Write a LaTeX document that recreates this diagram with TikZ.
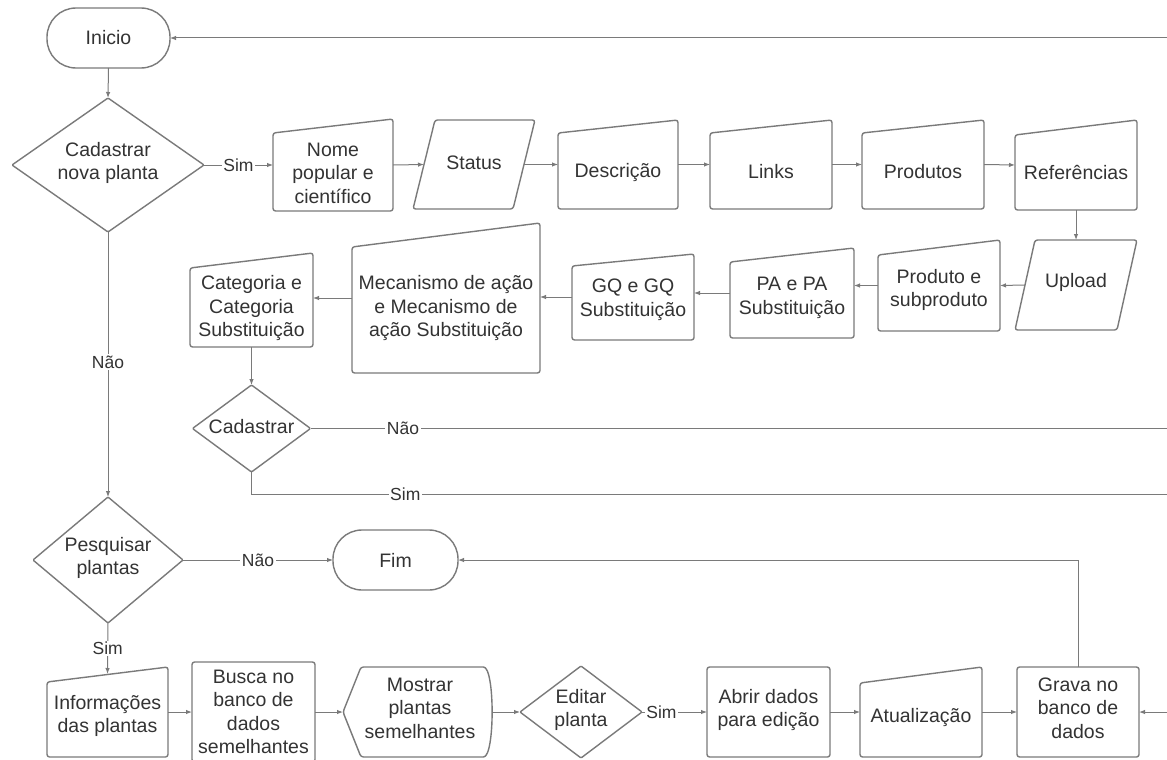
\documentclass[tikz,border=0pt]{standalone}
\usepackage{fontspec}
\setmainfont{Liberation Sans}
\usetikzlibrary{arrows.meta,calc}
\definecolor{ln}{HTML}{7A7A7A}
\definecolor{tx}{HTML}{333333}
\tikzset{
  frame/.style={inner sep=0pt, outer sep=0pt},
  outl/.style={draw=ln, line width=1.4pt, rounded corners=2.5pt, line join=round},
  txt/.style={text=tx, font=\fontsize{19.5}{23.5}\selectfont, align=center, inner sep=0pt},
  conn/.style={draw=ln, line width=1pt, -{Latex[length=6pt,width=4.5pt]}},
  plainline/.style={draw=ln, line width=1pt},
  lbl/.style={text=tx, font=\fontsize{17.5}{20}\selectfont, fill=white, inner sep=1.5pt},
}
\newcommand{\mkbox}[5]{\node[frame, minimum width=#4pt, minimum height=#5pt] (#1) at (#2,#3) {};}
\newcommand{\maninput}[2]{\draw[outl] (#1.south west) -- ([yshift=-#2pt]#1.north west) -- (#1.north east) -- (#1.south east) -- cycle;}
\newcommand{\skewbox}[2]{\draw[outl] (#1.south west) -- ([xshift=#2pt]#1.north west) -- (#1.north east) -- ([xshift=-#2pt]#1.south east) -- cycle;}
\newcommand{\diam}[1]{\draw[outl, rounded corners=1pt] (#1.north) -- (#1.east) -- (#1.south) -- (#1.west) -- cycle;}
\begin{document}
\begin{tikzpicture}[x=1pt, y=-1pt]
\useasboundingbox[fill=white] (0,0) rectangle (1167,760);

% ---- shapes ----
\node[frame, draw=ln, line width=1.4pt, rounded corners=29pt, minimum width=123pt, minimum height=60pt] (inicio) at (108.5,38) {};
\node[txt] (inicioT) at (108.5,38) {Inicio};

\mkbox{cad1}{108}{165}{192}{134} \diam{cad1}
\node[txt] (cad1T) at (108,163) {Cadastrar\\nova planta};

\mkbox{nome}{333}{165}{120}{92} \maninput{nome}{14}
\node[txt] (nomeT) at (333,173) {Nome\\popular e\\científico};

\mkbox{status}{474}{164.5}{122}{89} \skewbox{status}{22}
\node[txt] (statusT) at (474,163) {Status};

\mkbox{desc}{618}{164.5}{120}{89} \maninput{desc}{13}
\node[txt] (descT) at (618,172) {Descrição};

\mkbox{links}{771}{164.5}{122}{89} \maninput{links}{13}
\node[txt] (linksT) at (771,172) {Links};

\mkbox{prod}{923}{164.5}{122}{89} \maninput{prod}{13}
\node[txt] (prodT) at (923,172) {Produtos};

\mkbox{refs}{1076}{165}{122}{90} \maninput{refs}{15}
\node[txt] (refsT) at (1076,172) {Referências};

\mkbox{upload}{1076}{285}{122}{90} \skewbox{upload}{20}
\node[txt] (uploadT) at (1076,282) {Upload};

\mkbox{pes}{939}{285.5}{122}{91} \maninput{pes}{15}
\node[txt] (pesT) at (939,290) {Produto e\\subproduto};

\mkbox{pa}{792}{293}{124}{90} \maninput{pa}{14}
\node[txt] (paT) at (792,298) {PA e PA\\Substituição};

\mkbox{gq}{633}{297}{122}{86} \maninput{gq}{12}
\node[txt] (gqT) at (633,300) {GQ e GQ\\Substituição};

\mkbox{mec}{446}{298}{188}{150} \maninput{mec}{24}
\node[txt] (mecT) at (446,308) {Mecanismo de ação\\e Mecanismo de\\ação Substituição};

\mkbox{cat}{251.5}{300}{123}{94} \maninput{cat}{15}
\node[txt] (catT) at (251.5,308) {Categoria e\\Categoria\\Substituição};

\mkbox{cad2}{251.5}{428.5}{118}{87} \diam{cad2}
\node[txt] (cad2T) at (251.5,427) {Cadastrar};

\mkbox{pesq}{108}{560}{150}{126} \diam{pesq}
\node[txt] (pesqT) at (108,558) {Pesquisar\\plantas};

\node[frame, draw=ln, line width=1.4pt, rounded corners=29pt, minimum width=125pt, minimum height=60pt] (fim) at (395.5,560) {};
\node[txt] (fimT) at (395.5,560) {Fim};

\mkbox{info}{107.5}{712}{121}{90} \maninput{info}{15}
\node[txt] (infoT) at (107.5,716) {Informações\\das plantas};

\node[frame, outl, minimum width=123pt, minimum height=100pt] (busca) at (253.5,712) {};
\node[txt] (buscaT) at (253.5,712) {Busca no\\banco de\\dados\\semelhantes};

\mkbox{most}{418}{712}{150}{90}
\draw[outl] ([xshift=18pt]most.north west) -- ([xshift=-12pt]most.north east)
  .. controls ([xshift=2pt]most.north east) and ([xshift=2pt]most.south east) .. ([xshift=-12pt]most.south east)
  -- ([xshift=18pt]most.south west) -- (most.west) -- cycle;
\node[txt] (mostT) at (420,708) {Mostrar\\plantas\\semelhantes};

\mkbox{editar}{581}{712}{122}{92} \diam{editar}
\node[txt] (editarT) at (581,710) {Editar\\planta};

\node[frame, outl, minimum width=123pt, minimum height=90pt] (abrir) at (768.5,712) {};
\node[txt] (abrirT) at (768.5,710) {Abrir dados\\para edição};

\mkbox{atual}{921}{712}{122}{90} \maninput{atual}{16}
\node[txt] (atualT) at (921,717) {Atualização};

\node[frame, outl, minimum width=122pt, minimum height=90pt] (grava) at (1078,712) {};
\node[txt] (gravaT) at (1078,708) {Grava no\\banco de\\dados};

% ---- free ends at the right edge ----
\coordinate (rtop) at (1167,38);
\coordinate (rnao) at (1167,428.5);
\coordinate (rsim) at (1167,494);
\coordinate (rgrava) at (1167,712);

% ---- connectors ----
\draw[conn] (rtop) -- (inicio.east);
\draw[conn] (inicio.south) -- (cad1.north);
\draw[conn] (cad1.east) -- node[lbl, pos=0.5]{Sim} (nome.west);
\draw[conn] (nome.east) -- ([xshift=11pt]status.west);
\draw[conn] ([xshift=-11pt]status.east) -- (desc.west);
\draw[conn] (desc.east) -- (links.west);
\draw[conn] (links.east) -- (prod.west);
\draw[conn] (prod.east) -- (refs.west);
\draw[conn] (refs.south) -- (upload.north);
\draw[conn] ([xshift=10pt]upload.west) -- (pes.east);
\draw[conn] (pes.west) -- (pes.west -| pa.east);
\draw[conn] (pa.west) -- (pa.west -| gq.east);
\draw[conn] (gq.west) -- (gq.west -| mec.east);
\draw[conn] (mec.west) -- (mec.west -| cat.east);
\draw[conn] (cat.south) -- (cad2.north);
\draw[plainline] (cad2.east) -- node[lbl, pos=0.108]{Não} (rnao);
\draw[plainline] (cad2.south) |- node[lbl, pos=0.584]{Sim} (rsim);
\draw[conn] (cad1.south) -- node[lbl, pos=0.49]{Não} (pesq.north);
\draw[conn] (pesq.east) -- node[lbl]{Não} (fim.west);
\draw[conn] (pesq.south) -- node[lbl]{Sim} ([yshift=-7pt]info.north);
\draw[conn] (info.east) -- (busca.west);
\draw[conn] (busca.east) -- (most.west);
\draw[conn] (most.east) -- (editar.west);
\draw[conn] (editar.east) -- node[lbl, pos=0.3]{Sim} (abrir.west);
\draw[conn] (abrir.east) -- (atual.west);
\draw[conn] (atual.east) -- (grava.west);
\draw[conn] (rgrava) -- (grava.east);
\draw[conn] (grava.north) |- (fim.east);
\end{tikzpicture}
\end{document}
